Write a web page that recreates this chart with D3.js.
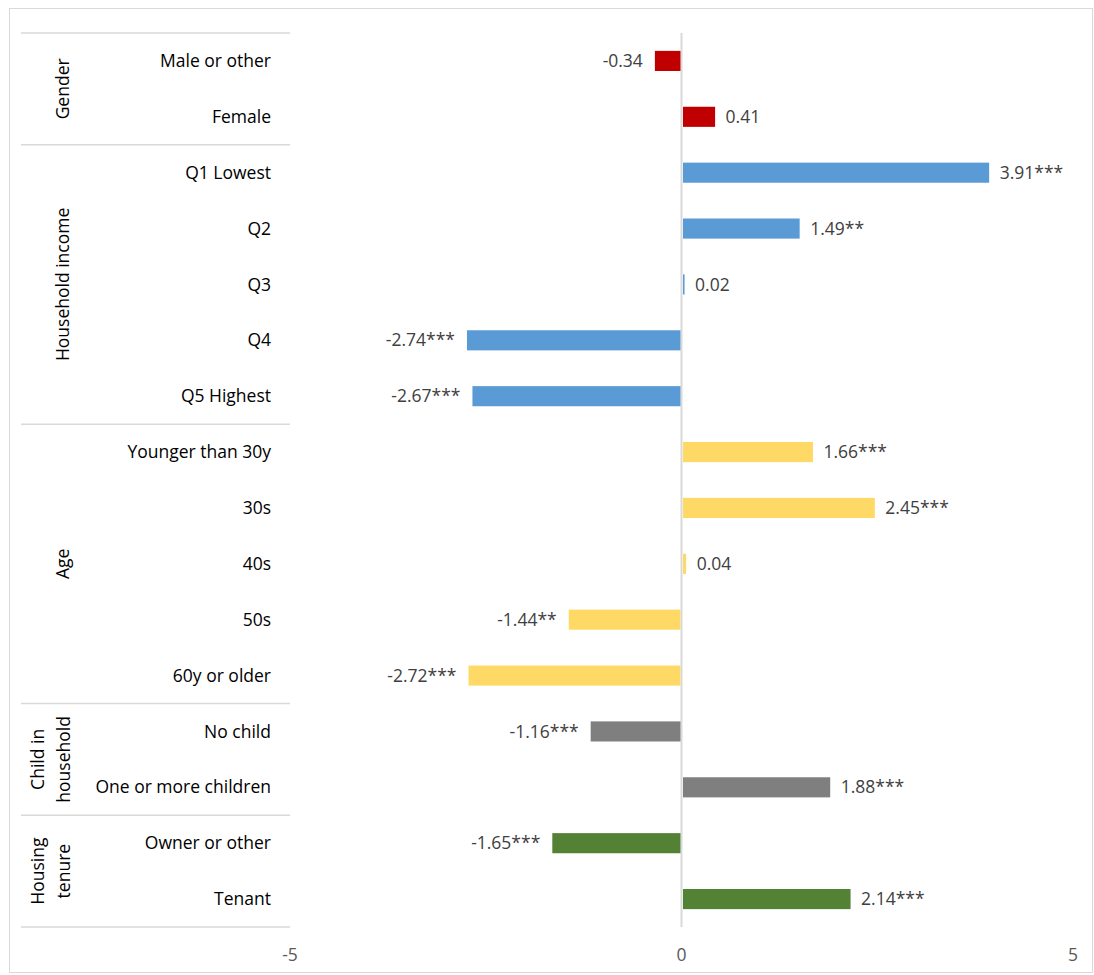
<!DOCTYPE html>
<html>
<head>
<meta charset="utf-8">
<script src="https://cdn.jsdelivr.net/npm/d3@7"></script>
<style>
  body { margin: 0; background: #fff; }
  svg text { font-family: "Open Sans", "Noto Sans", sans-serif; }
</style>
</head>
<body>
<svg width="1094" height="975"></svg>
<script>
// data
var categories = ['Male or other', 'Female', 'Q1 Lowest', 'Q2', 'Q3', 'Q4', 'Q5 Highest',
    'Younger than 30y', '30s', '40s', '50s', '60y or older',
    'No child', 'One or more children', 'Owner or other', 'Tenant'];
var values = [-0.34, 0.41, 3.91, 1.49, 0.02, -2.74, -2.67, 1.66, 2.45, 0.04, -1.44, -2.72, -1.16, 1.88, -1.65, 2.14];
var stars = ['', '', '***', '**', '', '***', '***', '***', '***', '', '**', '***', '***', '***', '***', '***'];
var groupNames = [['Gender'], ['Household income'], ['Age'], ['Child in', 'household'], ['Housing', 'tenure']];
var groupSizes = [2, 5, 5, 2, 2];
var groupColors = ['#C00000', '#5B9BD5', '#FFD966', '#7F7F7F', '#548235'];
var xTicks = [-5, 0, 5];

var svg = d3.select('svg');
var fs = 17.5;

// outer border
svg.append('rect')
    .attr('x', 9.5).attr('y', 8.5).attr('width', 1083).attr('height', 964)
    .attr('fill', 'none').attr('stroke', '#D9D9D9');

var yTop = 33, yBot = 927;
var x = d3.scaleLinear().domain([-5, 5]).range([290, 1073]);
var y = d3.scaleBand().domain(categories).range([yTop, yBot]).paddingInner(0.64).paddingOuter(0.32);

// colour per row from group
var rowColor = [];
groupSizes.forEach(function(n, g) {
    for (var i = 0; i < n; i++) rowColor.push(groupColors[g]);
});

// group separators
var bounds = [0];
groupSizes.forEach(function(n) { bounds.push(bounds[bounds.length - 1] + n); });
var step = (yBot - yTop) / categories.length;
svg.selectAll('line.sep').data(bounds).enter().append('line')
    .attr('class', 'sep')
    .attr('x1', 21).attr('x2', 290)
    .attr('y1', function(d) { return yTop + d * step; })
    .attr('y2', function(d) { return yTop + d * step; })
    .attr('stroke', '#D9D9D9').attr('stroke-width', 1.5);

// group labels
groupNames.forEach(function(lines, g) {
    var cy = yTop + (bounds[g] + bounds[g + 1]) / 2 * step;
    var t = svg.append('text')
        .attr('transform', 'translate(' + (lines.length == 1 ? 69 : 44) + ',' + cy + ') rotate(-90)')
        .attr('text-anchor', 'middle')
        .attr('font-size', fs).attr('fill', '#000');
    lines.forEach(function(l, i) {
        t.append('tspan').attr('x', 0).attr('dy', i == 0 ? 0 : 26).text(l);
    });
});

// category labels
svg.selectAll('text.cat').data(categories).enter().append('text')
    .attr('class', 'cat')
    .attr('x', 271)
    .attr('y', function(d) { return y(d) + y.bandwidth() / 2; })
    .attr('dy', '0.35em')
    .attr('text-anchor', 'end')
    .attr('font-size', fs).attr('fill', '#000')
    .text(function(d) { return d; });

// zero line
svg.append('line')
    .attr('x1', x(0)).attr('x2', x(0)).attr('y1', yTop).attr('y2', yBot)
    .attr('stroke', '#D9D9D9').attr('stroke-width', 2);

// bars
svg.selectAll('rect.bar').data(values).enter().append('rect')
    .attr('class', 'bar')
    .attr('x', function(d) { return d < 0 ? x(d) : x(0) + 1.5; })
    .attr('y', function(d, i) { return y(categories[i]); })
    .attr('width', function(d) { return Math.max(1, Math.abs(x(d) - x(0)) - (d < 0 ? 1 : 0)); })
    .attr('height', y.bandwidth())
    .attr('fill', function(d, i) { return rowColor[i]; });

// value labels
svg.selectAll('text.val').data(values).enter().append('text')
    .attr('class', 'val')
    .attr('x', function(d) { return d < 0 ? x(d) - 12 : x(d) + 12; })
    .attr('y', function(d, i) { return y(categories[i]) + y.bandwidth() / 2; })
    .attr('dy', '0.35em')
    .attr('text-anchor', function(d) { return d < 0 ? 'end' : 'start'; })
    .attr('font-size', fs).attr('fill', '#404040')
    .text(function(d, i) { return d.toFixed(2) + stars[i]; });

// x axis ticks
svg.selectAll('text.tick').data(xTicks).enter().append('text')
    .attr('class', 'tick')
    .attr('x', function(d) { return x(d); })
    .attr('y', 955)
    .attr('dy', '0.35em')
    .attr('text-anchor', 'middle')
    .attr('font-size', fs).attr('fill', '#595959')
    .text(function(d) { return d; });
</script>
</body>
</html>
